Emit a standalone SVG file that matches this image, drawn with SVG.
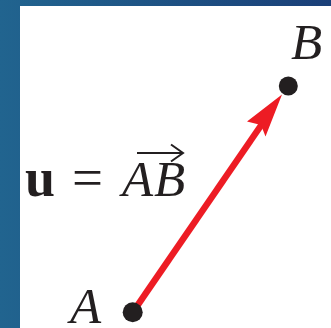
<svg xmlns="http://www.w3.org/2000/svg" width="331" height="328" viewBox="0 0 331 328">
<defs>
<linearGradient id="bg" x1="0" y1="0" x2="1" y2="0">
<stop offset="0" stop-color="#21648f"/>
<stop offset="1" stop-color="#1a3f78"/>
</linearGradient>
<style>
.lbl{font-family:"Liberation Serif",serif;font-style:italic;font-size:51px;fill:#231f20}
.dot{fill:#231f20}
</style>
</defs>
<rect x="0" y="0" width="331" height="328" fill="url(#bg)"/>
<rect x="20" y="6" width="311" height="322" fill="#ffffff"/>
<g id="connectors">
<line x1="132.7" y1="312.3" x2="262" y2="124" stroke="#ed1c24" stroke-width="6.5"/>
<polygon points="282,94.5 247,121.5 261,125 265.5,136.5" fill="#ed1c24"/>
</g>
<g id="nodeB">
<circle class="dot" cx="288.3" cy="86" r="9.5"/>
<text class="lbl" x="291" y="59">B</text>
</g>
<g id="nodeA">
<circle class="dot" cx="132.7" cy="312.3" r="10"/>
<text class="lbl" x="70" y="323">A</text>
</g>
<g id="formula">
<text font-family="Liberation Serif,serif" font-size="51" fill="#231f20" y="196"><tspan x="25" font-weight="bold" font-size="54">u</tspan><tspan x="72" font-size="55">=</tspan><tspan x="122" font-style="italic">A</tspan><tspan x="154" font-style="italic">B</tspan></text>
<line x1="137" y1="153" x2="182" y2="153" stroke="#231f20" stroke-width="2"/>
<polyline points="171,144.5 183,153 171,161.5" fill="none" stroke="#231f20" stroke-width="2"/>
</g>
</svg>
